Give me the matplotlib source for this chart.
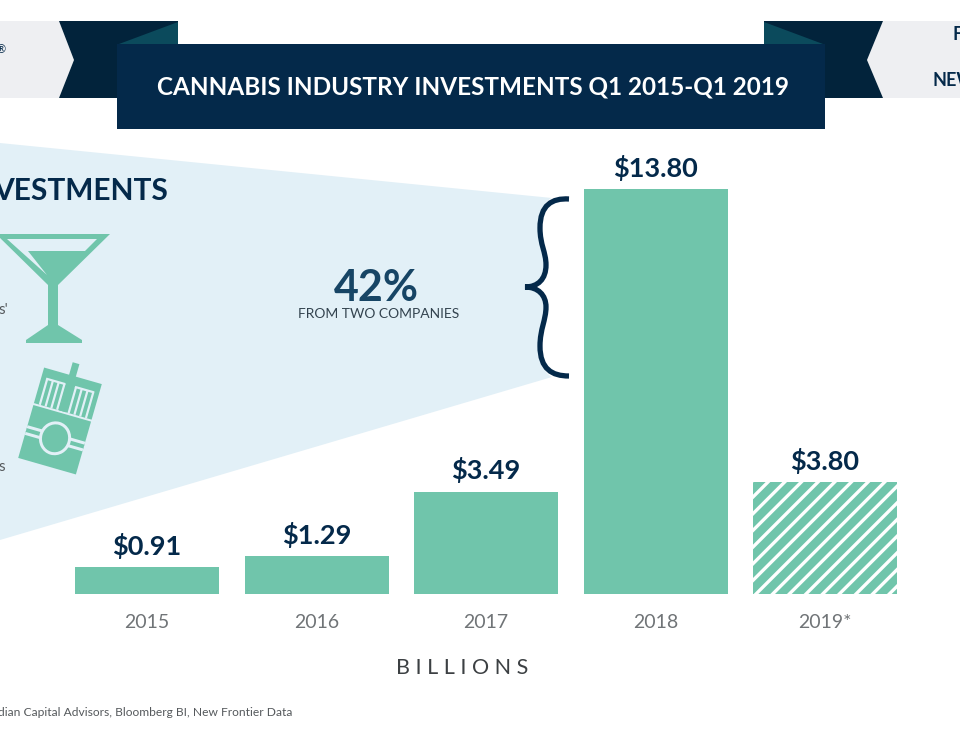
import matplotlib
matplotlib.use("Agg")
import matplotlib.pyplot as plt
from matplotlib.patches import Polygon, Rectangle, Ellipse, PathPatch
from matplotlib.path import Path
from matplotlib.transforms import Affine2D

# Data
years = ["2015", "2016", "2017", "2018", "2019*"]
values = [0.91, 1.29, 3.49, 13.80, 3.80]
value_labels = ["$0.91", "$1.29", "$3.49", "$13.80", "$3.80"]

NAVY = "#04294a"
RIBBON = "#02233b"
FOLD = "#0b4a5c"
GREEN = "#70c5ab"
WEDGE = "#e2f0f7"
TAB = "#eeeff2"
GREY = "#55595c"

plt.rcParams["font.family"] = ["Lato", "DejaVu Sans"]
plt.rcParams["hatch.linewidth"] = 2.4
plt.rcParams["text.parse_math"] = False

fig = plt.figure(figsize=(9.6, 7.5), dpi=100)

# Background layer in pixel coordinates, y pointing down
bg = fig.add_axes([0, 0, 1, 1])
bg.set_xlim(0, 960)
bg.set_ylim(750, 0)
bg.axis("off")

# curve of the brace, top to bottom, shared with the wedge edge
brace_pts = [(569, 199), (552, 198), (540, 205), (540, 228),
             (540, 245), (546, 252), (546, 265),
             (546, 279), (538, 287), (525, 287),
             (538, 287), (546, 295), (546, 307),
             (546, 320), (540, 329), (540, 346),
             (540, 369), (552, 376), (569, 376)]

wedge_verts = [(0, 143), (552, 198), (544, 201), (540, 212), (540, 228)] + brace_pts[4:16] + \
    [(540, 362), (544, 373), (552, 377), (0, 540), (0, 143)]
wedge_codes = [Path.MOVETO, Path.LINETO] + [Path.CURVE4] * 18 + [Path.LINETO, Path.CLOSEPOLY]
bg.add_patch(PathPatch(Path(wedge_verts, wedge_codes), fc=WEDGE, ec="none"))

# header tabs and ribbons
bg.add_patch(Polygon([(0, 21), (59, 21), (74, 60), (59, 98), (0, 98)], fc=TAB, ec="none"))
bg.add_patch(Polygon([(960, 21), (883, 21), (867, 60), (883, 98), (960, 98)], fc=TAB, ec="none"))
bg.add_patch(Polygon([(59, 21), (178, 21), (178, 60), (120, 98), (59, 98), (74, 60)], fc=RIBBON, ec="none"))
bg.add_patch(Polygon([(883, 21), (764, 21), (764, 60), (822, 98), (883, 98), (867, 60)], fc=RIBBON, ec="none"))
bg.add_patch(Polygon([(178, 22), (178, 44), (119, 44)], fc=FOLD, ec="none"))
bg.add_patch(Polygon([(764, 22), (764, 44), (823, 44)], fc=FOLD, ec="none"))
bg.add_patch(Rectangle((117, 44), 708, 85, fc=NAVY, ec="none"))
bg.text(473, 87, "CANNABIS INDUSTRY INVESTMENTS Q1 2015-Q1 2019", color="white",
        fontsize=17.5, fontweight="bold", ha="center", va="center")
bg.text(1, 50, "®", color=NAVY, fontsize=8, ha="center", va="center")
bg.text(953, 35, "F", color=NAVY, fontsize=13, fontweight="bold", ha="left", va="center")
bg.text(933, 80, "NEW", color=NAVY, fontsize=13, fontweight="bold", ha="left", va="center")

bg.text(168, 191, "VESTMENTS", color=NAVY, fontsize=21.5, fontweight="bold", ha="right", va="center")
bg.text(8, 310, "s'", color=GREY, fontsize=11, ha="right", va="center")
bg.text(5, 467, "s", color=GREY, fontsize=11, ha="right", va="center")

# martini glass
bg.add_patch(Polygon([(-4, 234), (110, 234), (58, 285), (58, 325), (82, 340), (82, 343),
                      (26, 343), (26, 340), (48, 325), (48, 285)], fc=GREEN, ec="none"))
bg.add_patch(Polygon([(7, 239), (97, 239), (85, 251), (28, 251), (47, 275)], fc=WEDGE, ec="none"))

# cigarette pack, drawn upright then turned
pack = Affine2D().rotate_deg(16).translate(60, 421) + bg.transData
bg.add_patch(Rectangle((-30, -47), 60, 37, fc=GREEN, ec="none", transform=pack))
for sx in [-25, -19, -13, -7, 5, 11, 17, 23]:
    bg.add_patch(Rectangle((sx, -37), 2.2, 27, fc=WEDGE, ec="none", transform=pack))
bg.add_patch(Rectangle((-25, -38), 20, 2.2, fc=WEDGE, ec="none", transform=pack))
bg.add_patch(Rectangle((5, -38), 20, 2.2, fc=WEDGE, ec="none", transform=pack))
bg.add_patch(Rectangle((-4, -60), 7, 50, fc=GREEN, ec="none", transform=pack))
bg.add_patch(Rectangle((-30, -8), 60, 55, fc=GREEN, ec="none", transform=pack))
bg.add_patch(Rectangle((-30, 13), 60, 10, fc=WEDGE, ec="none", transform=pack))
bg.add_patch(Rectangle((-30, 16), 60, 4, fc=GREEN, ec="none", transform=pack))
bg.add_patch(Ellipse((0, 18), 32, 34, fc=WEDGE, ec="none", transform=pack))
bg.add_patch(Ellipse((0, 18), 26, 28, fc=GREEN, ec="none", transform=pack))

# curly brace
brace = Path(brace_pts, [Path.MOVETO] + [Path.CURVE4] * 18)
bg.add_patch(PathPatch(brace, fc="none", ec=NAVY, lw=3.8, capstyle="butt"))

bg.text(376, 288, "42%", color="#174565", fontsize=31, fontweight="bold", ha="center", va="center")
bg.text(379, 314, "FROM TWO COMPANIES", color="#33434f", fontsize=10, ha="center", va="center")

bg.text(462, 668, "B I L L I O N S", color="#3c4043", fontsize=15.5, ha="center", va="center")
bg.text(292, 713, "dian Capital Advisors, Bloomberg BI, New Frontier Data", color=GREY,
        fontsize=8.65, ha="right", va="center")

# Bars: bottom at y=594px, 13.80 reaches y=189px, bar spacing 169.5px
ax = fig.add_axes([0, (750 - 594) / 750, 1, (594 - 189) / 750])
ax.patch.set_alpha(0)
x = list(range(len(years)))
ax.set_xlim(-147 / 169.5, (960 - 147) / 169.5)
ax.set_ylim(0, 13.80)
bars = ax.bar(x, values, width=144 / 169.5, color=GREEN, linewidth=0)
bars[-1].set_hatch("//")
bars[-1].set_edgecolor("white")

for xi, v, lab in zip(x, values, value_labels):
    ax.annotate(lab, (xi, v), xytext=(0, 6), textcoords="offset points", ha="center", va="bottom",
                color=NAVY, fontsize=19.5, fontweight="bold", annotation_clip=False)

ax.set_xticks(x)
ax.set_xticklabels(years, fontsize=14, color="#707477")
ax.tick_params(axis="x", length=0, pad=14.5)
ax.set_yticks([])
for s in ax.spines.values():
    s.set_visible(False)

fig.savefig("out.png", dpi=100)
